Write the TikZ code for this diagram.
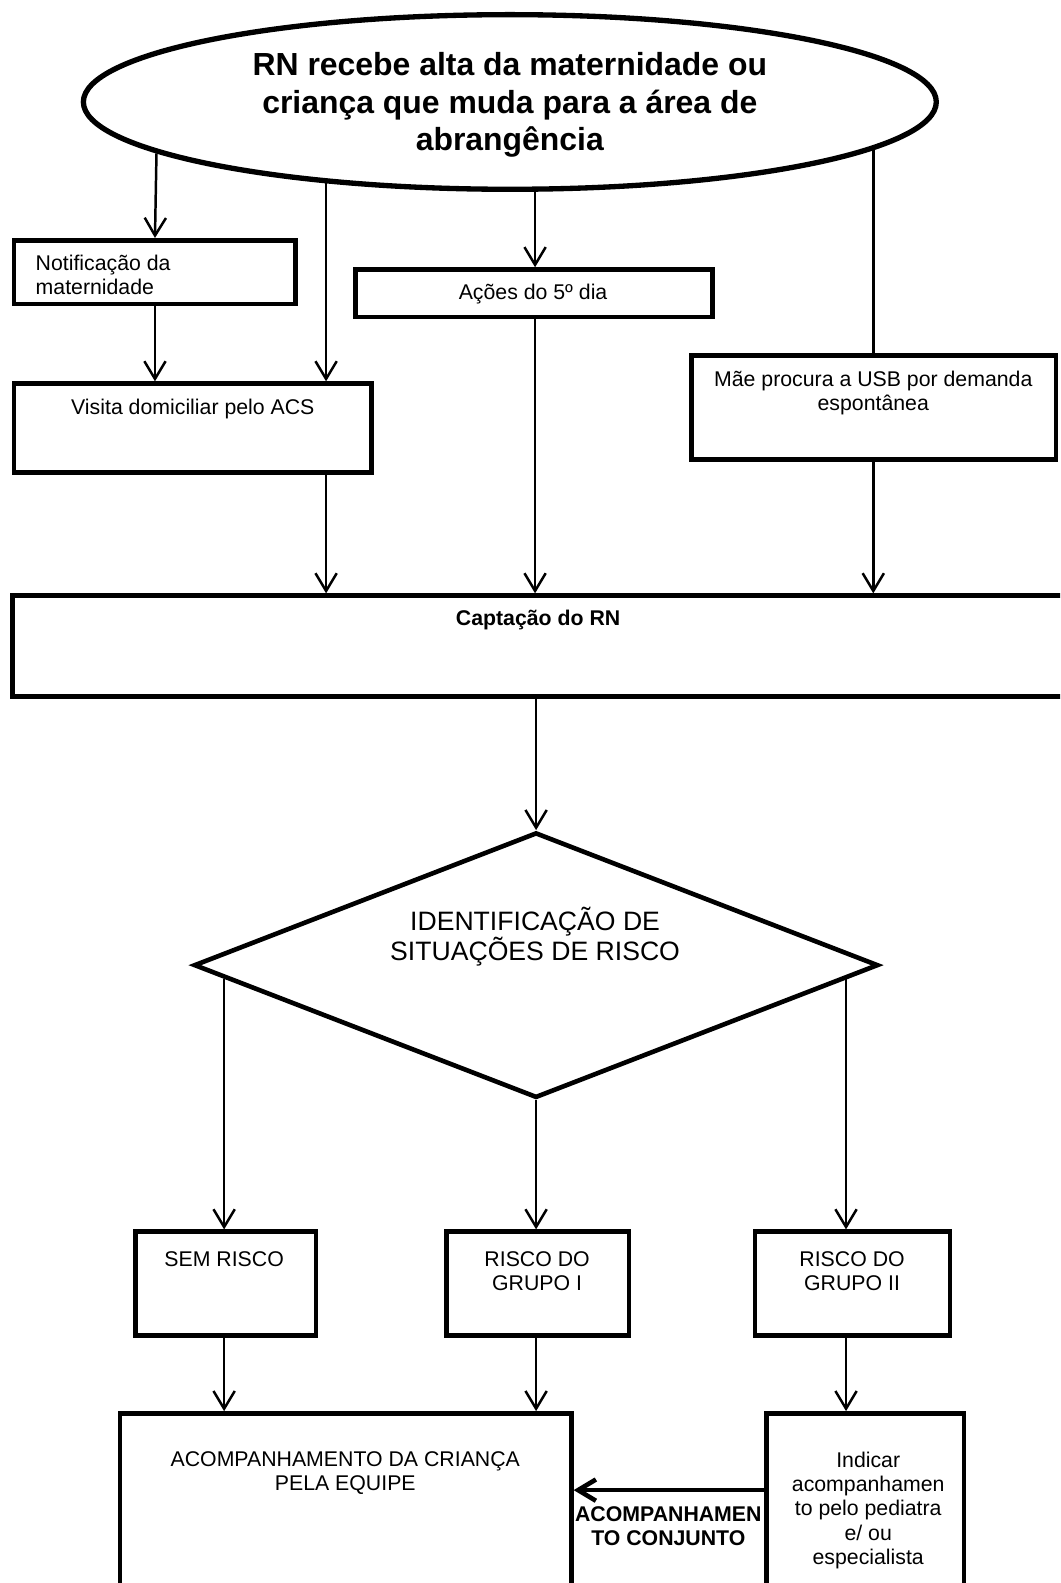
\documentclass[tikz,border=0pt]{standalone}
\usepackage{fontspec}
\setmainfont{Liberation Sans}
\usepackage{tikz}
\usetikzlibrary{shapes.geometric,arrows.meta}

\begin{document}
\begin{tikzpicture}[x=0.02cm,y=-0.02cm]
  \tikzset{flowbox/.style={draw=black,line width=2.6pt,rectangle,inner sep=0pt}}
  \tikzset{flowline/.style={draw=black,line width=1.4pt}}
  \tikzset{flowarrow/.style={flowline,-{Straight Barb[length=10pt,width=12pt]}}}
  \tikzset{boxtext/.style={font=\fontsize{12}{13.7}\selectfont,inner sep=0pt,align=center}}
  \useasboundingbox (0,0) rectangle (1050,1568);
  \clip (0,0) rectangle (1050,1568);
  \node[draw=black,line width=3pt,ellipse,inner sep=0pt,minimum width=16.9cm,minimum height=3.46cm] (top) at (505,101) {};
  \node[font=\fontsize{18}{21}\selectfont\bfseries,align=center,inner sep=0pt] (toptxt) at (505,104)
        {RN recebe alta da maternidade ou\\criança que muda para a área de\\abrangência};
  \coordinate (e1) at (155,152);
  \coordinate (e2) at (323,181);
  \coordinate (e3) at (530,190);
  \coordinate (e4) at (865,148);
  \node[flowbox,minimum width=5.58cm,minimum height=1.26cm] (notif) at (153.5,269.5) {};
  \node[boxtext,anchor=west,align=left] (notiftxt) at (35,272) {Notificação da\\maternidade};
  \node[flowbox,minimum width=7.08cm,minimum height=1.76cm] (visita) at (191,424) {};
  \node[boxtext] (visitatxt) at (191,405) {Visita domiciliar pelo ACS};
  \node[flowbox,minimum width=7.08cm,minimum height=0.94cm] (acoes) at (529,290.5) {};
  \node[boxtext] (acoestxt) at (528,291) {Ações do 5º dia};
  \node[flowbox,minimum width=7.22cm,minimum height=2.06cm] (mae) at (865.5,403.5) {};
  \node[boxtext] (maetxt) at (865,389) {Mãe procura a USB por demanda\\espontânea};
  \node[flowbox,minimum width=20.84cm,minimum height=2.0cm] (capt) at (533,640) {};
  \node[boxtext,font=\fontsize{12}{13.7}\selectfont\bfseries] (capttxt) at (533,614) {Captação do RN};
  \node[draw=black,line width=2.6pt,diamond,inner sep=0pt,minimum width=13.56cm,minimum height=5.26cm] (ident) at (531,956) {};
  \node[boxtext,font=\fontsize{15}{17}\selectfont] (identtxt) at (530,928) {IDENTIFICAÇÃO DE\\SITUAÇÕES DE RISCO};
  \coordinate (d1) at (222,970);
  \coordinate (d3) at (838,970);
  \node[flowbox,minimum width=3.58cm,minimum height=2.06cm] (semr) at (223.5,1271.5) {};
  \node[boxtext] (semrtxt) at (222,1247) {SEM RISCO};
  \node[flowbox,minimum width=3.62cm,minimum height=2.06cm] (grp1) at (532.5,1271.5) {};
  \node[boxtext] (grp1txt) at (532,1259) {RISCO DO\\GRUPO I};
  \node[flowbox,minimum width=3.86cm,minimum height=2.06cm] (grp2) at (844.5,1271.5) {};
  \node[boxtext] (grp2txt) at (844,1259) {RISCO DO\\GRUPO II};
  \node[flowbox,minimum width=8.94cm,minimum height=4.8cm] (acomp) at (342.5,1520) {};
  \node[boxtext] (acomptxt) at (342,1459) {ACOMPANHAMENTO DA CRIANÇA\\PELA EQUIPE};
  \node[flowbox,minimum width=3.92cm,minimum height=4.8cm] (indic) at (857,1520) {};
  \node[boxtext] (indictxt) at (860,1496) {Indicar\\acompanhamen\\to pelo pediatra\\e/ ou\\especialista};
  \coordinate (j1) at (660,1476);
  \node[boxtext,font=\fontsize{12}{13.7}\selectfont\bfseries] (conjtxt) at (662,1512) {ACOMPANHAMEN\\TO CONJUNTO};
  \draw[flowarrow] (e1) -- (notif.north);
  \draw[flowarrow] (notif.south) -- (visita.north -| notif.south);
  \draw[flowarrow] (e2) -- (visita.north -| e2);
  \draw[flowarrow] (e3) -- (acoes.north -| e3);
  \draw[flowline] (e4) -- (mae.north -| e4);
  \draw[flowarrow] (visita.south -| e2) -- (capt.north -| e2);
  \draw[flowarrow] (acoes.south -| e3) -- (capt.north -| e3);
  \draw[flowarrow] (mae.south -| e4) -- (capt.north -| e4);
  \draw[flowarrow] (capt.south -| ident.north) -- (ident.north);
  \draw[flowarrow] (d1) -- (semr.north -| d1);
  \draw[flowarrow] (ident.south) -- (grp1.north -| ident.south);
  \draw[flowarrow] (d3) -- (grp2.north -| d3);
  \draw[flowarrow] (semr.south -| d1) -- (acomp.north -| d1);
  \draw[flowarrow] (grp1.south -| ident.south) -- (acomp.north -| ident.south);
  \draw[flowarrow] (grp2.south -| d3) -- (indic.north -| d3);
  \draw[flowarrow,line width=2.6pt] (j1 -| indic.west) -- (j1 -| acomp.east);
\end{tikzpicture}
\end{document}
